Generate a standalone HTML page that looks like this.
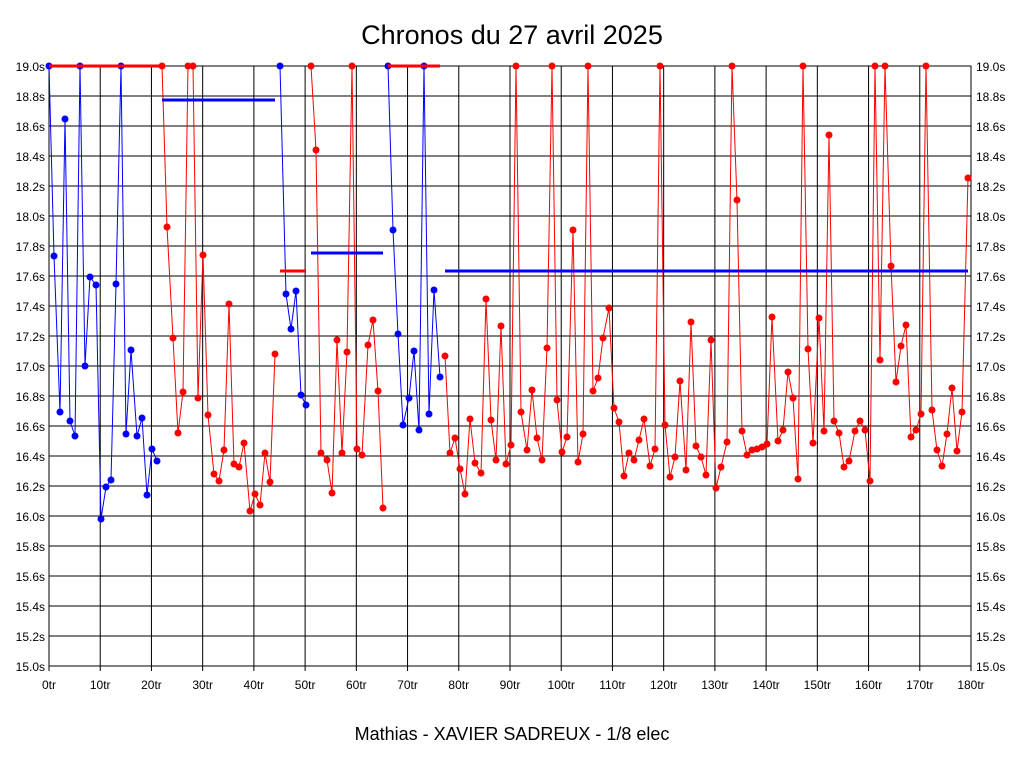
<!DOCTYPE html>
<html><head><meta charset="utf-8"><style>
html,body{margin:0;padding:0;background:#fff}
svg{display:block;font-family:"Liberation Sans",sans-serif}
</style></head><body>
<svg id="s" width="1024" height="768" xmlns="http://www.w3.org/2000/svg">
<rect x="0" y="0" width="1024" height="768" fill="#fff"/>
<text x="512" y="44" font-size="27" text-anchor="middle">Chronos du 27 avril 2025</text>
<text x="512" y="740" font-size="18" text-anchor="middle">Mathias - XAVIER SADREUX - 1/8 elec</text>
<g id="grid"></g><g id="data"></g>
</svg>
<script>
var NS="http://www.w3.org/2000/svg";
function el(p,t,a,txt){var e=document.createElementNS(NS,t);for(var k in a)e.setAttribute(k,a[k]);if(txt!==undefined)e.textContent=txt;p.appendChild(e);return e;}
var g=document.getElementById('grid'),d=document.getElementById('data');
var x0=49,x1=971,y0=66,y1=666;
for(var i=0;i<=20;i++){var y=y0+i*30;el(g,'line',{x1:x0,x2:x1,y1:y,y2:y,stroke:'#000','stroke-width':1});
var v=(19-i*0.2).toFixed(1)+'s';el(g,'text',{x:45,y:y+5,'font-size':12,'text-anchor':'end'},v);el(g,'text',{x:976,y:y+5,'font-size':12},v);}
for(var i=0;i<=18;i++){var x=x0+i*(x1-x0)/18;el(g,'line',{x1:x,x2:x,y1:y0,y2:y1+5,stroke:'#000','stroke-width':1});
el(g,'text',{x:x,y:689,'font-size':12,'text-anchor':'middle'},(i*10)+'tr');}
el(g,'rect',{x:x0,y:y0,width:x1-x0,height:y1-y0,fill:'none',stroke:'#000'});
var segs=[
['#00f',[[49,66],[54,256],[60,412],[65,119],[70,421],[75,436],[80,66],[85,366],[90,277],[96,285],[101,519],[106,487],[111,480],[116,284],[121,66],[126,434],[131,350],[137,436],[142,418],[147,495],[152,449],[157,461]]],
['#f00',[[162,66],[167,227],[173,338],[178,433],[183,392],[188,66],[193,66],[198,398],[203,255],[208,415],[214,474],[219,481],[224,450],[229,304],[234,464],[239,467],[244,443],[250,511],[255,494],[260,505],[265,453],[270,482],[275,354]]],
['#00f',[[280,66],[286,294],[291,329],[296,291],[301,395],[306,405]]],
['#f00',[[311,66],[316,150],[321,453],[327,460],[332,493],[337,340],[342,453],[347,352],[352,66],[357,449],[362,455],[368,345],[373,320],[378,391],[383,508]]],
['#00f',[[388,66],[393,230],[398,334],[403,425],[409,398],[414,351],[419,430],[424,66],[429,414],[434,290],[440,377]]],
['#f00',[[445,356],[450,453],[455,438],[460,469],[465,494],[470,419],[475,463],[481,473],[486,299],[491,420],[496,460],[501,326],[506,464],[511,445],[516,66],[521,412],[527,450],[532,390],[537,438],[542,460],[547,348],[552,66],[557,400],[562,452],[567,437],[573,230],[578,462],[583,434],[588,66],[593,391],[598,378],[603,338],[609,308],[614,408],[619,422],[624,476],[629,453],[634,460],[639,440],[644,419],[650,466],[655,449],[660,66],[665,425],[670,477],[675,457],[680,381],[686,470],[691,322],[696,446],[701,457],[706,475],[711,340],[716,488],[721,467],[727,442],[732,66],[737,200],[742,431],[747,455],[752,450],[757,449],[762,447],[767,444],[772,317],[778,441],[783,430],[788,372],[793,398],[798,479],[803,66],[808,349],[813,443],[819,318],[824,431],[829,135],[834,421],[839,433],[844,467],[849,461],[855,431],[860,421],[865,430],[870,481],[875,66],[880,360],[885,66],[891,266],[896,382],[901,346],[906,325],[911,437],[916,430],[921,414],[926,66],[932,410],[937,450],[942,466],[947,434],[952,388],[957,451],[962,412],[968,178]]]
];
segs.forEach(function(s){
 var pts='';for(var i=0;i<s[1].length;i++){var p=s[1][i];pts+=p[0]+','+p[1]+' ';if(i<s[1].length-1){var q=s[1][i+1];var mx=(p[0]+q[0])/2;pts+=mx+','+((p[1]+q[1])/2)+' ';}}
 el(d,'polyline',{points:pts,fill:'none',stroke:s[0],'stroke-width':1});
 s[1].forEach(function(p){el(d,'circle',{cx:p[0],cy:p[1],r:3.5,fill:s[0]});});
});
[['#f00',49,160,66],['#00f',162,275,100],['#f00',280,306,271],['#00f',311,383,253],['#f00',388,440,66],['#00f',445,968,271]].forEach(function(m){
 el(d,'line',{x1:m[1],x2:m[2],y1:m[3],y2:m[3],stroke:m[0],'stroke-width':3});});
</script>
</body></html>
